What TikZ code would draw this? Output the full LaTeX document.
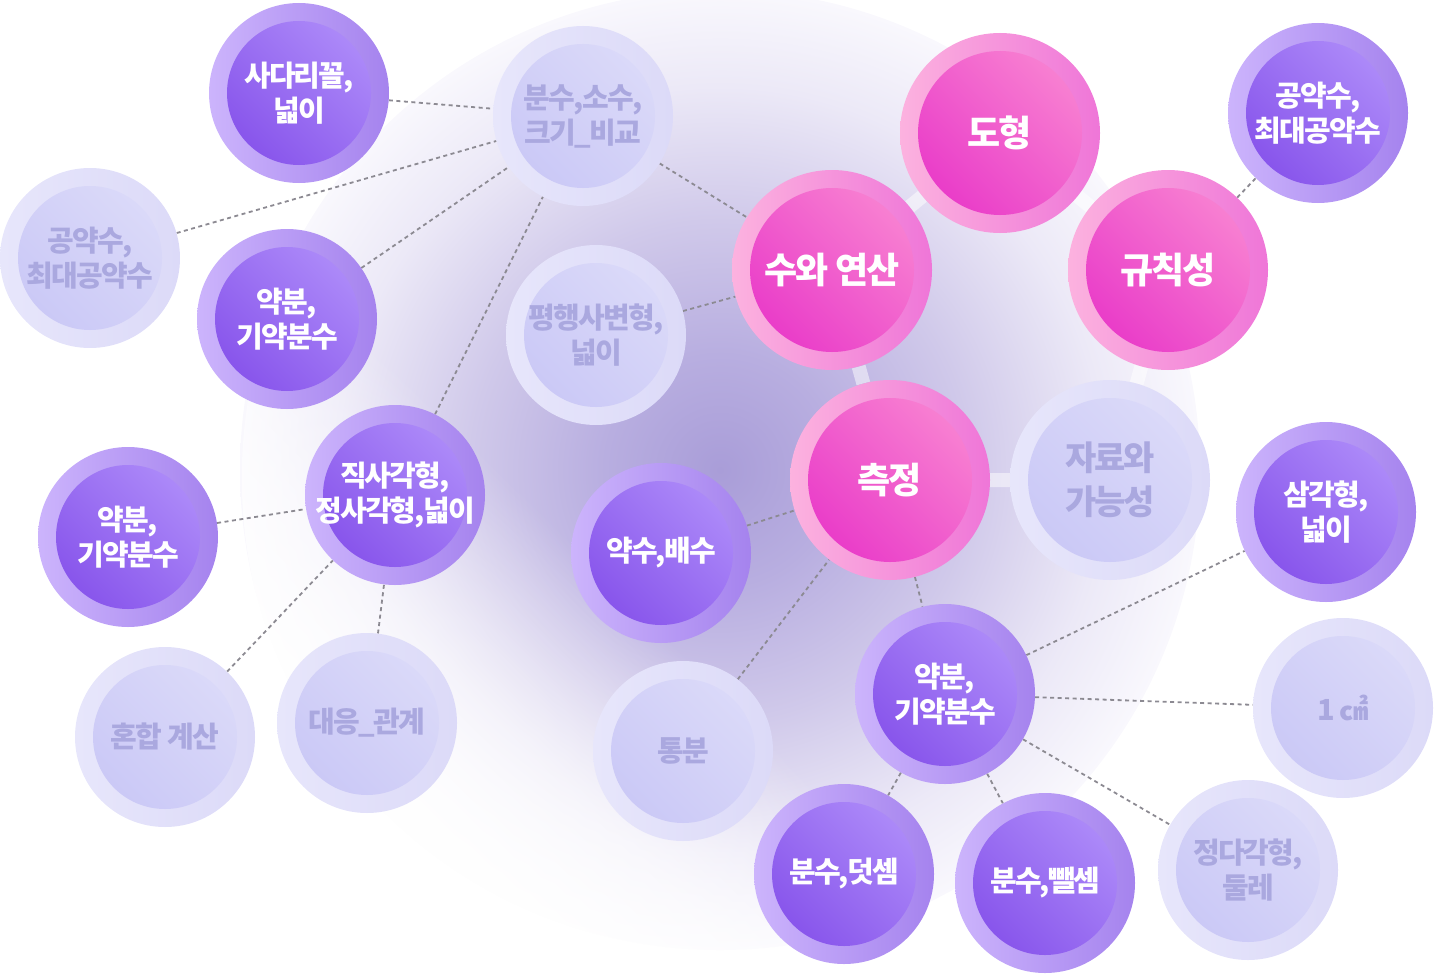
\documentclass[tikz,border=0pt]{standalone}
\usepackage{fontspec}
\newfontfamily\kr[LetterSpace=-6]{Noto Sans CJK KR}
\usetikzlibrary{backgrounds, fadings}

\definecolor{purpRingA}{HTML}{CCB4FC}
\definecolor{purpRingB}{HTML}{A583EE}
\definecolor{purpInA}{HTML}{B08FFA}
\definecolor{purpInB}{HTML}{844FEA}
\definecolor{pinkRingA}{HTML}{FCB2DF}
\definecolor{pinkRingB}{HTML}{EF76D8}
\definecolor{pinkInA}{HTML}{F986D2}
\definecolor{pinkInB}{HTML}{E836C8}
\definecolor{paleRingA}{HTML}{E7E6FB}
\definecolor{paleRingB}{HTML}{DCDAF8}
\definecolor{paleInA}{HTML}{DCDBF9}
\definecolor{paleInB}{HTML}{C9C7F6}
\definecolor{paleText}{HTML}{AAA8DF}
\definecolor{dotGray}{HTML}{8C8A92}
\definecolor{glowA}{HTML}{A99DD8}
\definecolor{glowB}{HTML}{B8AEE0}
\definecolor{glowC}{HTML}{D0C9EA}
\definecolor{glowD}{HTML}{ECE9F7}
\definecolor{glowE}{HTML}{F9F8FD}

\pgfdeclareradialshading{glow}{\pgfpoint{0bp}{0bp}}{color(0bp)=(glowA); color(6bp)=(glowB); color(13bp)=(glowC); color(20bp)=(glowD); color(25bp)=(glowE); color(50bp)=(white)}
% white wash from the lower left
\pgfdeclarehorizontalshading{washshade}{100bp}{color(0bp)=(white); color(25bp)=(white); color(33bp)=(white!65!black); color(42bp)=(black); color(100bp)=(black)}
\pgfdeclarefading{wash}{\pgfuseshading{washshade}}

\tikzset{
  bub/.style={circle, inner sep=0pt, minimum size=180pt, align=center, shading angle=-45,
    font=\kr\bfseries\fontsize{29}{35}\selectfont},
  purp/.style={bub, left color=purpRingA, right color=purpRingB, text=white,
    path picture={\shade[left color=purpInA, right color=purpInB, shading angle=-45]
      (path picture bounding box.center) circle (72pt);}},
  pale/.style={bub, left color=paleRingA, right color=paleRingB, text=paleText,
    path picture={\shade[left color=paleInA, right color=paleInB, shading angle=-45]
      (path picture bounding box.center) circle (72pt);}},
  pink/.style={bub, minimum size=200pt, left color=pinkRingA, right color=pinkRingB, text=white,
    font=\kr\bfseries\fontsize{36}{42}\selectfont,
    path picture={\shade[left color=pinkInA, right color=pinkInB, shading angle=-45]
      (path picture bounding box.center) circle (82pt);}},
  band/.style={white, opacity=0.5, line width=14pt},
  dots/.style={dotGray, line width=1.8pt, dash pattern=on 4pt off 3.5pt}
}

\begin{document}
\begin{tikzpicture}[x=1pt, y=-1pt]
  \useasboundingbox (0,0) rectangle (1434,974);

  % main areas
  \node[pink] (dohyeong) at (1000,133) {도형};
  \node[pink] (suyeonsan) at (832,270) {수와 연산};
  \node[pink] (gyuchik) at (1168,270) {규칙성};
  \node[pink] (cheukjeong) at (890,480) {측정};
  \node[pale, minimum size=200pt, font=\kr\bfseries\fontsize{34}{44}\selectfont,
    path picture={\shade[left color=paleInA, right color=paleInB, shading angle=-45]
      (path picture bounding box.center) circle (82pt);}] (jaryo) at (1110,480) {자료와\\가능성};

  \node[pale] (bunsu) at (583,116) {분수,소수,\\크기\_비교};
  \node[pale] (gongpale) at (90,258) {공약수,\\최대공약수};
  \node[pale] (pyeonghaeng) at (596,335) {평행사변형,\\넓이};
  \node[pale] (honhap) at (165,737) {혼합 계산};
  \node[pale] (daeeung) at (367,723) {대응\_관계};
  \node[pale] (tongbun) at (683,751) {통분};
  \node[pale] (cm) at (1343,708) {1 ㎠};
  \node[pale] (jeongda) at (1248,870) {정다각형,\\둘레};

  \node[purp] (sadari) at (299,93) {사다리꼴,\\넓이};
  \node[purp] (yakbunA) at (287,319) {약분,\\기약분수};
  \node[purp] (jiksa) at (395,495) {직사각형,\\정사각형,넓이};
  \node[purp] (yakbunB) at (128,537) {약분,\\기약분수};
  \node[purp] (yaksu) at (661,553) {약수,배수};
  \node[purp] (gongyak) at (1318,113) {공약수,\\최대공약수};
  \node[purp] (samgak) at (1326,512) {삼각형,\\넓이};
  \node[purp] (yakbunC) at (945,694) {약분,\\기약분수};
  \node[purp] (deotsem) at (844,874) {분수,덧셈};
  \node[purp] (ppaelsem) at (1045,883) {분수,뺄셈};

  \begin{scope}[on background layer]
    \shade[shading=glow] (720,470) circle (480);
    \fill[white, path fading=wash, fading angle=45] (720,470) circle (481);

    \draw[band] (dohyeong) -- (suyeonsan) -- (cheukjeong) -- (jaryo) -- (gyuchik) -- (dohyeong);

    \draw[dots] (sadari) -- (bunsu);
    \draw[dots] (gongpale) -- (bunsu);
    \draw[dots] (yakbunA) -- (bunsu);
    \draw[dots] (jiksa) -- (bunsu);
    \draw[dots] (bunsu) -- (suyeonsan);
    \draw[dots] (pyeonghaeng) -- (suyeonsan);
    \draw[dots] (yakbunB) -- (jiksa);
    \draw[dots] (honhap) -- (jiksa);
    \draw[dots] (daeeung) -- (jiksa);
    \draw[dots] (yaksu) -- (cheukjeong);
    \draw[dots] (tongbun) -- (cheukjeong);
    \draw[dots] (cheukjeong) -- (yakbunC);
    \draw[dots] (gyuchik) -- (gongyak);
    \foreach \t in {samgak, cm, jeongda, deotsem, ppaelsem}
      \draw[dots] (yakbunC) -- (\t);
  \end{scope}
\end{tikzpicture}
\end{document}
